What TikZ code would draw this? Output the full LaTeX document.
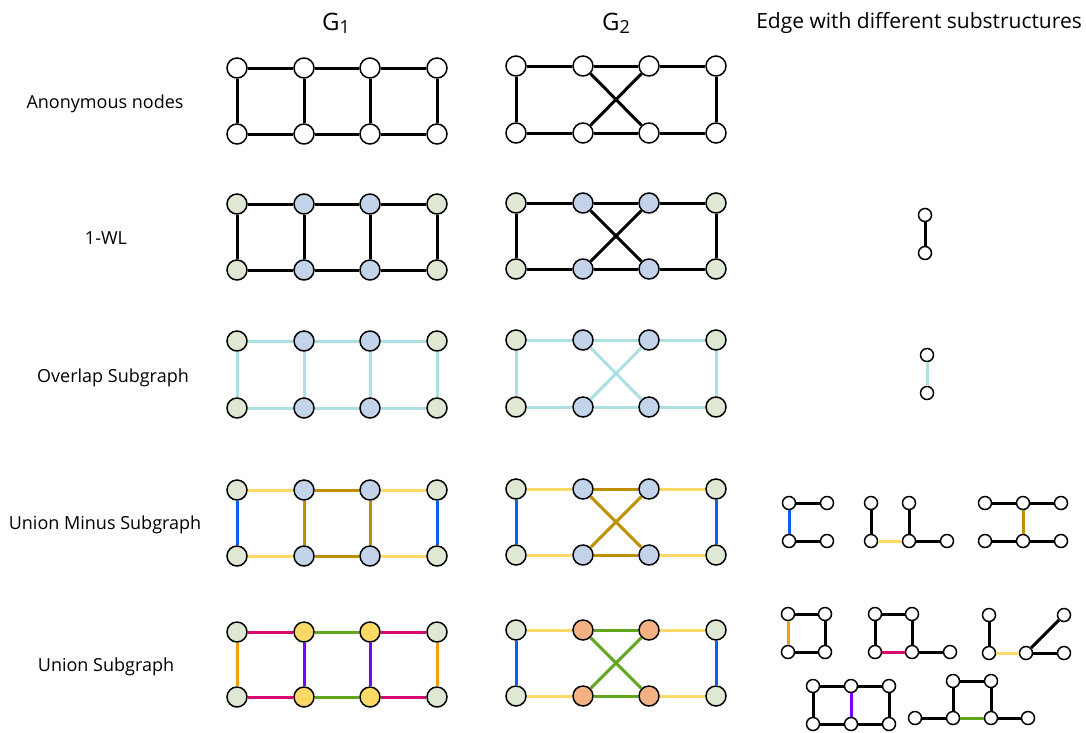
\documentclass[tikz,border=0pt]{standalone}
\usepackage{fontspec}
\setmainfont{Open Sans}
\definecolor{nodegreen}{HTML}{DEE8D3}
\definecolor{nodeblue}{HTML}{C3D3EA}
\definecolor{nodeyellow}{HTML}{FFD966}
\definecolor{nodepeach}{HTML}{F4B183}
\definecolor{ecyan}{HTML}{ACE0E2}
\definecolor{eyellow}{HTML}{FFD966}
\definecolor{egold}{HTML}{BF9000}
\definecolor{eblue}{HTML}{0A5FF0}
\definecolor{emagenta}{HTML}{D6096E}
\definecolor{egreen}{HTML}{62A61E}
\definecolor{epurple}{HTML}{7A00FF}
\definecolor{eorange}{HTML}{F2A00F}
\tikzset{
  big/.style={circle, draw=black, line width=1.5pt, minimum size=20pt, inner sep=0pt, fill=white},
  small/.style={circle, draw=black, line width=1.5pt, minimum size=13pt, inner sep=0pt, fill=white},
  edge/.style={line width=3pt},
  rowlabel/.style={font=\fontsize{18}{21}\selectfont, inner sep=0pt, anchor=base},
  header/.style={font=\fontsize{24}{28}\selectfont, inner sep=0pt, anchor=base},
}
% graph name with a large, lowered index
\newcommand\gname[1]{G\raisebox{-3.5pt}{\fontsize{18}{18}\selectfont #1}}
% eight nodes of a 2x4 ladder: #1 prefix, #2 left x, #3 top y, #4 bottom y, #5 end fill, #6 middle fill
\newcommand\placeladder[6]{%
  \node[big,fill=#5] (#1t1) at (#2,#3) {};
  \node[big,fill=#6] (#1t2) at (#2+67,#3) {};
  \node[big,fill=#6] (#1t3) at (#2+133,#3) {};
  \node[big,fill=#5] (#1t4) at (#2+200,#3) {};
  \node[big,fill=#5] (#1b1) at (#2,#4) {};
  \node[big,fill=#6] (#1b2) at (#2+67,#4) {};
  \node[big,fill=#6] (#1b3) at (#2+133,#4) {};
  \node[big,fill=#5] (#1b4) at (#2+200,#4) {};
}
% G1 edges: #1 prefix, #2 outer horizontals, #3 middle horizontals, #4 inner rungs, #5 outer rungs
\newcommand\ladderedges[5]{%
  \draw[edge,#2] (#1t1) -- (#1t2);  \draw[edge,#2] (#1t3) -- (#1t4);
  \draw[edge,#2] (#1b1) -- (#1b2);  \draw[edge,#2] (#1b3) -- (#1b4);
  \draw[edge,#3] (#1t2) -- (#1t3);  \draw[edge,#3] (#1b2) -- (#1b3);
  \draw[edge,#4] (#1t2) -- (#1b2);  \draw[edge,#4] (#1t3) -- (#1b3);
  \draw[edge,#5] (#1t1) -- (#1b1);  \draw[edge,#5] (#1t4) -- (#1b4);
}
% G2 edges: #1 prefix, #2 outer horizontals, #3 middle horizontals, #4 crossing edges, #5 outer rungs
\newcommand\crossedges[5]{%
  \draw[edge,#2] (#1t1) -- (#1t2);  \draw[edge,#2] (#1t3) -- (#1t4);
  \draw[edge,#2] (#1b1) -- (#1b2);  \draw[edge,#2] (#1b3) -- (#1b4);
  \draw[edge,#3] (#1t2) -- (#1t3);  \draw[edge,#3] (#1b2) -- (#1b3);
  \draw[edge,#4] (#1t2) -- (#1b3);  \draw[edge,#4] (#1t3) -- (#1b2);
  \draw[edge,#5] (#1t1) -- (#1b1);  \draw[edge,#5] (#1t4) -- (#1b4);
}
\begin{document}
\begin{tikzpicture}[x=1pt,y=-1pt]
\useasboundingbox[fill=white] (0,0) rectangle (1086,732);

% column headers
\node[header] (h1) at (336,30) {\gname{1}};
\node[header] (h2) at (616,30) {\gname{2}};
\node[font=\fontsize{21}{25}\selectfont, inner sep=0pt, anchor=base] (h3) at (919,28) {Edge with different substructures};

% row labels
\node[rowlabel] (l1) at (105,108) {Anonymous nodes};
\node[rowlabel] (l2) at (106,244) {1-WL};
\node[rowlabel] (l3) at (113,382) {Overlap Subgraph};
\node[rowlabel] (l4) at (105,529) {Union Minus Subgraph};
\node[rowlabel] (l5) at (106,671) {Union Subgraph};

% row 1: anonymous nodes
\placeladder{a}{237}{68}{134}{white}{white}
\ladderedges{a}{black}{black}{black}{black}
\placeladder{A}{516}{66}{133}{white}{white}
\crossedges{A}{black}{black}{black}{black}

% row 2: 1-WL colours
\placeladder{w}{237}{204}{270}{nodegreen}{nodeblue}
\ladderedges{w}{black}{black}{black}{black}
\placeladder{W}{516}{203}{269}{nodegreen}{nodeblue}
\crossedges{W}{black}{black}{black}{black}

% row 3: overlap subgraph
\placeladder{o}{237}{341}{408}{nodegreen}{nodeblue}
\ladderedges{o}{ecyan}{ecyan}{ecyan}{ecyan}
\placeladder{O}{516}{340}{407}{nodegreen}{nodeblue}
\crossedges{O}{ecyan}{ecyan}{ecyan}{ecyan}

% row 4: union minus subgraph
\placeladder{m}{237}{490}{556}{nodegreen}{nodeblue}
\ladderedges{m}{eyellow}{egold}{egold}{eblue}
\placeladder{M}{516}{489}{555}{nodegreen}{nodeblue}
\crossedges{M}{eyellow}{egold}{egold}{eblue}

% row 5: union subgraph
\placeladder{u}{237}{632}{697}{nodegreen}{nodeyellow}
\ladderedges{u}{emagenta}{egreen}{epurple}{eorange}
\placeladder{U}{516}{630}{696}{nodegreen}{nodepeach}
\crossedges{U}{eyellow}{egreen}{egreen}{eblue}

% right column: single edges
\node[small] (p1) at (925,215) {};
\node[small] (p2) at (925,253) {};
\draw[edge] (p1) -- (p2);
\node[small] (q1) at (927,355) {};
\node[small] (q2) at (927,393) {};
\draw[edge,ecyan] (q1) -- (q2);

% union minus substructures
\node[small] (c1) at (789,503) {};
\node[small] (c2) at (827,503) {};
\node[small] (c3) at (789,541) {};
\node[small] (c4) at (827,541) {};
\draw[edge] (c1) -- (c2);
\draw[edge,eblue] (c1) -- (c3);
\draw[edge] (c3) -- (c4);

\node[small] (d1) at (871,503) {};
\node[small] (d2) at (909,503) {};
\node[small] (d3) at (871,541) {};
\node[small] (d4) at (909,541) {};
\node[small] (d5) at (947,541) {};
\draw[edge] (d1) -- (d3);
\draw[edge,eyellow] (d3) -- (d4);
\draw[edge] (d2) -- (d4);
\draw[edge] (d4) -- (d5);

\node[small] (f1) at (985,503) {};
\node[small] (f2) at (1023,503) {};
\node[small] (f3) at (1061,503) {};
\node[small] (f4) at (985,541) {};
\node[small] (f5) at (1023,541) {};
\node[small] (f6) at (1061,541) {};
\draw[edge] (f1) -- (f2);
\draw[edge] (f2) -- (f3);
\draw[edge,egold] (f2) -- (f5);
\draw[edge] (f4) -- (f5);
\draw[edge] (f5) -- (f6);

% union substructures
\node[small] (s1) at (788,614) {};
\node[small] (s2) at (825,614) {};
\node[small] (s3) at (788,652) {};
\node[small] (s4) at (825,652) {};
\draw[edge] (s1) -- (s2);
\draw[edge,eorange] (s1) -- (s3);
\draw[edge] (s2) -- (s4);
\draw[edge] (s3) -- (s4);

\node[small] (k1) at (875,614) {};
\node[small] (k2) at (912,614) {};
\node[small] (k3) at (875,652) {};
\node[small] (k4) at (912,652) {};
\node[small] (k5) at (950,652) {};
\draw[edge] (k1) -- (k2);
\draw[edge] (k1) -- (k3);
\draw[edge] (k2) -- (k4);
\draw[edge,emagenta] (k3) -- (k4);
\draw[edge] (k4) -- (k5);

\node[small] (v1) at (989,615) {};
\node[small] (v2) at (1064,615) {};
\node[small] (v3) at (989,653) {};
\node[small] (v4) at (1026,653) {};
\node[small] (v5) at (1064,653) {};
\draw[edge] (v1) -- (v3);
\draw[edge,eyellow] (v3) -- (v4);
\draw[edge] (v4) -- (v2);
\draw[edge] (v4) -- (v5);

\node[small] (r1) at (813,686) {};
\node[small] (r2) at (851,686) {};
\node[small] (r3) at (889,686) {};
\node[small] (r4) at (813,724) {};
\node[small] (r5) at (851,724) {};
\node[small] (r6) at (889,724) {};
\draw[edge] (r1) -- (r2);
\draw[edge] (r2) -- (r3);
\draw[edge] (r1) -- (r4);
\draw[edge,epurple] (r2) -- (r5);
\draw[edge] (r3) -- (r6);
\draw[edge] (r4) -- (r5);
\draw[edge] (r5) -- (r6);

\node[small] (z1) at (953,681) {};
\node[small] (z2) at (991,681) {};
\node[small] (z3) at (915,718) {};
\node[small] (z4) at (953,718) {};
\node[small] (z5) at (991,718) {};
\node[small] (z6) at (1028,718) {};
\draw[edge] (z1) -- (z2);
\draw[edge] (z1) -- (z4);
\draw[edge] (z2) -- (z5);
\draw[edge] (z3) -- (z4);
\draw[edge,egreen] (z4) -- (z5);
\draw[edge] (z5) -- (z6);
\end{tikzpicture}
\end{document}
